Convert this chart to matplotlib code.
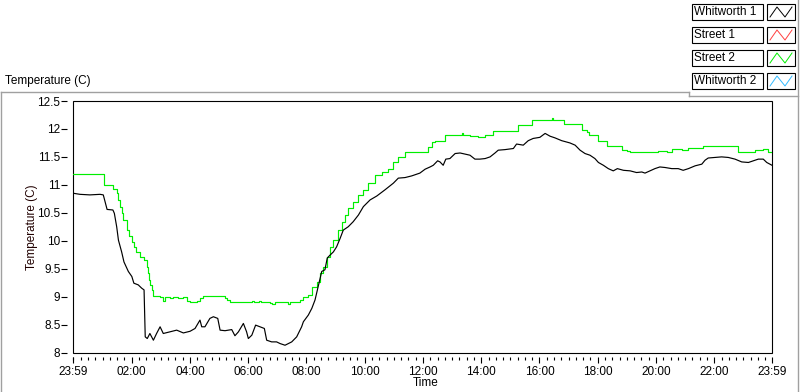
import matplotlib
matplotlib.use('Agg')
import matplotlib.pyplot as plt
from matplotlib.patches import Rectangle
from matplotlib.lines import Line2D
import numpy as np

# --- data: hours after 23:59, temperature (C) ---
whitworth1_h = [0.00, 0.24, 0.58, 0.93, 1.04, 1.10, 1.17, 1.37, 1.42, 1.50, 1.56, 1.67, 1.75,
                1.90, 2.02, 2.09, 2.24, 2.36, 2.44, 2.48, 2.55, 2.64, 2.76, 2.87, 2.99, 3.10,
                3.33, 3.56, 3.79, 4.02, 4.19, 4.36, 4.42, 4.53, 4.70, 4.82, 4.97, 5.05, 5.22,
                5.45, 5.56, 5.68, 5.85, 5.96, 6.02, 6.14, 6.27, 6.42, 6.57, 6.65, 6.82, 6.99,
                7.11, 7.28, 7.51, 7.68, 7.85, 7.91, 8.08, 8.20, 8.31, 8.42, 8.54, 8.65, 8.73,
                8.82, 8.94, 9.05, 9.17, 9.28, 9.45, 9.62, 9.80, 9.97, 10.20, 10.43, 10.71,
                11.00, 11.17, 11.40, 11.63, 11.91, 12.09, 12.26, 12.37, 12.52, 12.60, 12.71,
                12.80, 12.94, 13.12, 13.29, 13.46, 13.63, 13.80, 13.97, 14.15, 14.32, 14.49,
                14.60, 14.83, 15.12, 15.23, 15.46, 15.63, 15.80, 16.03, 16.21, 16.38, 16.55,
                16.78, 17.06, 17.24, 17.41, 17.58, 17.75, 17.92, 18.04, 18.21, 18.38, 18.55,
                18.69, 18.90, 19.13, 19.35, 19.53, 19.64, 19.81, 19.98, 20.15, 20.33, 20.56,
                20.78, 20.95, 21.13, 21.36, 21.59, 21.70, 21.81, 22.04, 22.27, 22.50, 22.73,
                22.96, 23.19, 23.36, 23.53, 23.70, 23.82, 24.00]
whitworth1_t = [10.85, 10.83, 10.82, 10.83, 10.82, 10.70, 10.56, 10.55, 10.49, 10.25, 10.01, 9.80, 9.62,
                9.45, 9.36, 9.24, 9.21, 9.15, 9.12, 8.28, 8.25, 8.34, 8.22, 8.34, 8.46, 8.34,
                8.37, 8.40, 8.35, 8.38, 8.43, 8.58, 8.46, 8.46, 8.61, 8.64, 8.61, 8.40, 8.39,
                8.41, 8.30, 8.37, 8.52, 8.37, 8.25, 8.31, 8.49, 8.46, 8.43, 8.22, 8.19, 8.19,
                8.16, 8.13, 8.19, 8.28, 8.46, 8.55, 8.67, 8.79, 8.94, 9.18, 9.45, 9.48, 9.69,
                9.74, 9.80, 9.89, 10.04, 10.19, 10.25, 10.34, 10.46, 10.61, 10.73, 10.80, 10.91,
                11.03, 11.12, 11.13, 11.16, 11.21, 11.28, 11.32, 11.35, 11.43, 11.41, 11.35,
                11.46, 11.47, 11.56, 11.57, 11.55, 11.53, 11.46, 11.46, 11.47, 11.50, 11.57,
                11.62, 11.63, 11.65, 11.73, 11.71, 11.79, 11.83, 11.85, 11.92, 11.87, 11.84,
                11.79, 11.75, 11.71, 11.62, 11.56, 11.53, 11.47, 11.40, 11.35, 11.29, 11.25,
                11.29, 11.26, 11.25, 11.22, 11.23, 11.21, 11.25, 11.29, 11.32, 11.31, 11.29,
                11.29, 11.26, 11.29, 11.34, 11.37, 11.44, 11.48, 11.49, 11.50, 11.49, 11.46,
                11.41, 11.40, 11.43, 11.46, 11.46, 11.40, 11.35]

street2_h = [0.00, 1.07, 1.38, 1.50, 1.56, 1.61, 1.67, 1.73, 1.84, 1.92, 2.02, 2.09, 2.16,
             2.30, 2.44, 2.53, 2.58, 2.62, 2.66, 2.70, 2.76, 2.99, 3.09, 3.16, 3.33, 3.43,
             3.61, 3.78, 3.91, 4.02, 4.26, 4.36, 4.46, 5.22, 5.29, 5.39, 6.15, 6.22, 6.39,
             6.46, 6.76, 6.83, 6.94, 7.38, 7.45, 7.73, 7.79, 7.91, 8.08, 8.20, 8.37, 8.48,
             8.59, 8.71, 8.82, 8.94, 9.11, 9.23, 9.34, 9.45, 9.62, 9.80, 9.97, 10.14, 10.37,
             10.60, 10.83, 11.00, 11.17, 11.40, 12.19, 12.31, 12.43, 12.77, 13.36, 13.39,
             13.63, 13.92, 14.15, 14.43, 15.29, 15.77, 16.44, 16.49, 16.86, 17.47, 17.64,
             17.73, 18.04, 18.35, 18.84, 19.01, 19.13, 20.10, 20.38, 20.56, 20.90, 21.13,
             21.64, 22.84, 23.41, 23.70, 23.87, 24.00]
street2_t = [11.19, 11.00, 10.92, 10.85, 10.73, 10.61, 10.50, 10.37, 10.19, 10.08, 9.98, 9.89, 9.80,
             9.70, 9.65, 9.53, 9.42, 9.30, 9.20, 9.12, 9.01, 9.00, 8.93, 8.99, 8.97, 9.00,
             8.97, 9.00, 8.93, 8.91, 8.93, 8.97, 9.01, 8.98, 8.94, 8.90, 8.93, 8.90, 8.93,
             8.90, 8.88, 8.86, 8.90, 8.87, 8.90, 8.90, 8.94, 9.00, 9.03, 9.18, 9.27, 9.42,
             9.53, 9.71, 9.89, 10.01, 10.19, 10.34, 10.46, 10.58, 10.70, 10.82, 10.91, 11.03, 11.18,
             11.23, 11.29, 11.41, 11.50, 11.58, 11.68, 11.77, 11.79, 11.89, 11.92, 11.89,
             11.87, 11.86, 11.89, 11.97, 12.07, 12.16, 12.20, 12.16, 12.09, 11.99, 11.95,
             11.90, 11.78, 11.69, 11.63, 11.60, 11.58, 11.61, 11.59, 11.64, 11.63, 11.66,
             11.69, 11.59, 11.62, 11.65, 11.59, 11.58]

legend_names = ['Whitworth 1', 'Street 1', 'Street 2', 'Whitworth 2']
legend_colors = ['#000000', '#ff4040', '#00ee00', '#33bbff']

x_tick_hours = [0, 2.0167, 4.0167, 6.0167, 8.0167, 10.0167, 12.0167, 14.0167,
                16.0167, 18.0167, 20.0167, 22.0167, 24]
x_tick_labels = ['23:59', '02:00', '04:00', '06:00', '08:00', '10:00', '12:00',
                 '14:00', '16:00', '18:00', '20:00', '22:00', '23:59']
y_ticks = [8, 8.5, 9, 9.5, 10, 10.5, 11, 11.5, 12, 12.5]

W, H = 800, 392
plt.rcParams['font.family'] = ['Liberation Sans', 'DejaVu Sans']
FS = 8.5

fig = plt.figure(figsize=(W / 100, H / 100), dpi=100)


def px(x, y):
    # pixel (top-left origin) -> figure fraction
    return x / W, 1 - y / H


# --- plot area ---
ax = fig.add_axes([73 / W, (H - 352.5) / H, 699 / W, 251.5 / H])
ax.plot(street2_h, street2_t, color=legend_colors[2], lw=0.85, drawstyle='steps-post')
ax.plot(whitworth1_h, whitworth1_t, color='black', lw=0.85)

ax.set_xlim(0, 24)
ax.set_ylim(8, 12.5)
ax.set_yticks(y_ticks)
ax.set_yticklabels(['%g' % v for v in y_ticks])
ax.set_xticks(x_tick_hours)
ax.set_xticklabels(x_tick_labels)
minor = [m for m in np.arange(2.0167 - 8 * 0.25, 24.01, 0.25) if 0 < m < 24]
ax.set_xticks(minor, minor=True)

for s in ax.spines.values():
    s.set_visible(False)
ax.spines['left'].set_position(('outward', 4))
ax.spines['bottom'].set_position(('outward', 3))
ax.add_patch(Rectangle((0, 0), 1, 1, transform=ax.transAxes, fill=False,
                       edgecolor='black', lw=0.8, clip_on=False))
ax.tick_params(axis='y', direction='out', length=4, width=0.8, pad=1, labelsize=FS)
ax.tick_params(axis='x', which='major', direction='out', length=4, width=0.8, pad=3, labelsize=FS)
ax.tick_params(axis='x', which='minor', direction='out', length=2.5, width=0.8)

fig.text(*px(32, 227), 'Temperature (C)', rotation=90, ha='center', va='center',
         fontsize=FS, color='#200000')
fig.text(*px(426, 383), 'Time', ha='center', va='center', fontsize=FS)
fig.text(*px(5, 81), 'Temperature (C)', ha='left', va='center', fontsize=FS)

# --- outer panel frame ---
gray = '#a0a0a0'
for (x0, y0, x1, y1) in [(1, 92, 689, 92), (1, 92, 1, 392), (798, 0, 798, 392),
                         (689, 96, 798, 96), (689, 92, 689, 96)]:
    fig.add_artist(Line2D([x0 / W, x1 / W], [1 - y0 / H, 1 - y1 / H], color=gray, lw=1))

# --- legend ---
for i, (name, col) in enumerate(zip(legend_names, legend_colors)):
    top = 4 + 23 * i
    bot = top + 16
    fx, fy = px(692, bot)
    fig.add_artist(Rectangle((fx, fy), 71 / W, 16 / H, transform=fig.transFigure,
                             fill=False, edgecolor='black', lw=0.8))
    fig.text(*px(694, (top + bot) / 2), name, ha='left', va='center', fontsize=FS)
    fx, fy = px(767, bot)
    fig.add_artist(Rectangle((fx, fy), 28 / W, 16 / H, transform=fig.transFigure,
                             fill=False, edgecolor='black', lw=0.8))
    zx = [770, 777, 785, 792]
    zy = [bot - 3, top + 3, bot - 3, top + 3]
    fig.add_artist(Line2D([v / W for v in zx], [1 - v / H for v in zy], color=col, lw=0.7))

fig.savefig('out.png', dpi=100)
